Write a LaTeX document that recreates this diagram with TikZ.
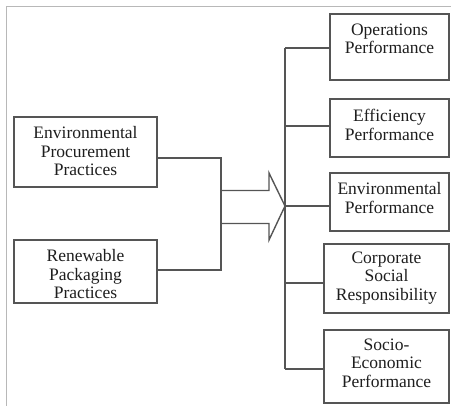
\documentclass[tikz,border=0pt]{standalone}
\usepackage{fontspec}
\setmainfont{Liberation Serif}
\definecolor{linec}{HTML}{555555}
\definecolor{framec}{HTML}{B8B8B8}
\definecolor{txtc}{HTML}{1E1E1E}
\tikzset{
  box/.style={draw=linec, line width=1.4pt, rectangle, inner sep=0pt},
  txt/.style={text=txtc, align=center, inner sep=0pt, font=\fontsize{17.5}{18.5}\selectfont},
  conn/.style={draw=linec, line width=1.4pt},
}
\begin{document}
\begin{tikzpicture}[x=1pt,y=-1pt]
\useasboundingbox (0,0) rectangle (451,406);
\draw[framec, line width=1pt] (6,406) -- (6,7) -- (451,7);
% left boxes
\node[box, minimum width=143pt, minimum height=70pt] (epp) at (85.5,152) {};
\node[txt] (epptxt) at (85.5,151.5) {Environmental\\Procurement\\Practices};
\node[box, minimum width=143pt, minimum height=63pt] (rpp) at (85.5,271.5) {};
\node[txt] (rpptxt) at (85.5,274.5) {Renewable\\Packaging\\Practices};
% right boxes
\node[box, minimum width=119pt, minimum height=66pt] (ops) at (389.5,47) {};
\node[txt] (opstxt) at (389.5,39) {Operations\\Performance};
\node[box, minimum width=119pt, minimum height=58pt] (eff) at (389.5,128) {};
\node[txt] (efftxt) at (389.5,125) {Efficiency\\Performance};
\node[box, minimum width=119pt, minimum height=58pt] (env) at (389.5,202) {};
\node[txt] (envtxt) at (389.5,198) {Environmental\\Performance};
\node[box, minimum width=125pt, minimum height=69pt] (csr) at (386.5,278.5) {};
\node[txt] (csrtxt) at (386.5,278) {Corporate\\Social\\Responsibility};
\node[box, minimum width=125pt, minimum height=73pt] (sep) at (386.5,366.5) {};
\node[txt] (septxt) at (386.5,363) {Socio-\\Economic\\Performance};
% junctions
\coordinate (jl1) at (221,158);
\coordinate (jl2) at (221,270);
\coordinate (tip) at (285,206);
\coordinate (jr1) at (285,48);
\coordinate (jr5) at (285,369);
% left connectors
\draw[conn] (epp.east |- jl1) -- (jl1) -- (jl2) -- (rpp.east |- jl2);
% block arrow
\draw[conn, line join=miter] (221,190.5) -- (269,190.5) -- (269,173) -- (tip) -- (269,240) -- (269,223.5) -- (221,223.5);
% right trunk
\draw[conn] (jr1) -- (jr5);
\draw[conn] (jr1) -- (ops.west |- jr1);
\draw[conn] (285,126) -- (eff.west |- 0,126);
\draw[conn] (tip) -- (env.west |- tip);
\draw[conn] (285,283) -- (csr.west |- 0,283);
\draw[conn] (jr5) -- (sep.west |- jr5);
\end{tikzpicture}
\end{document}
